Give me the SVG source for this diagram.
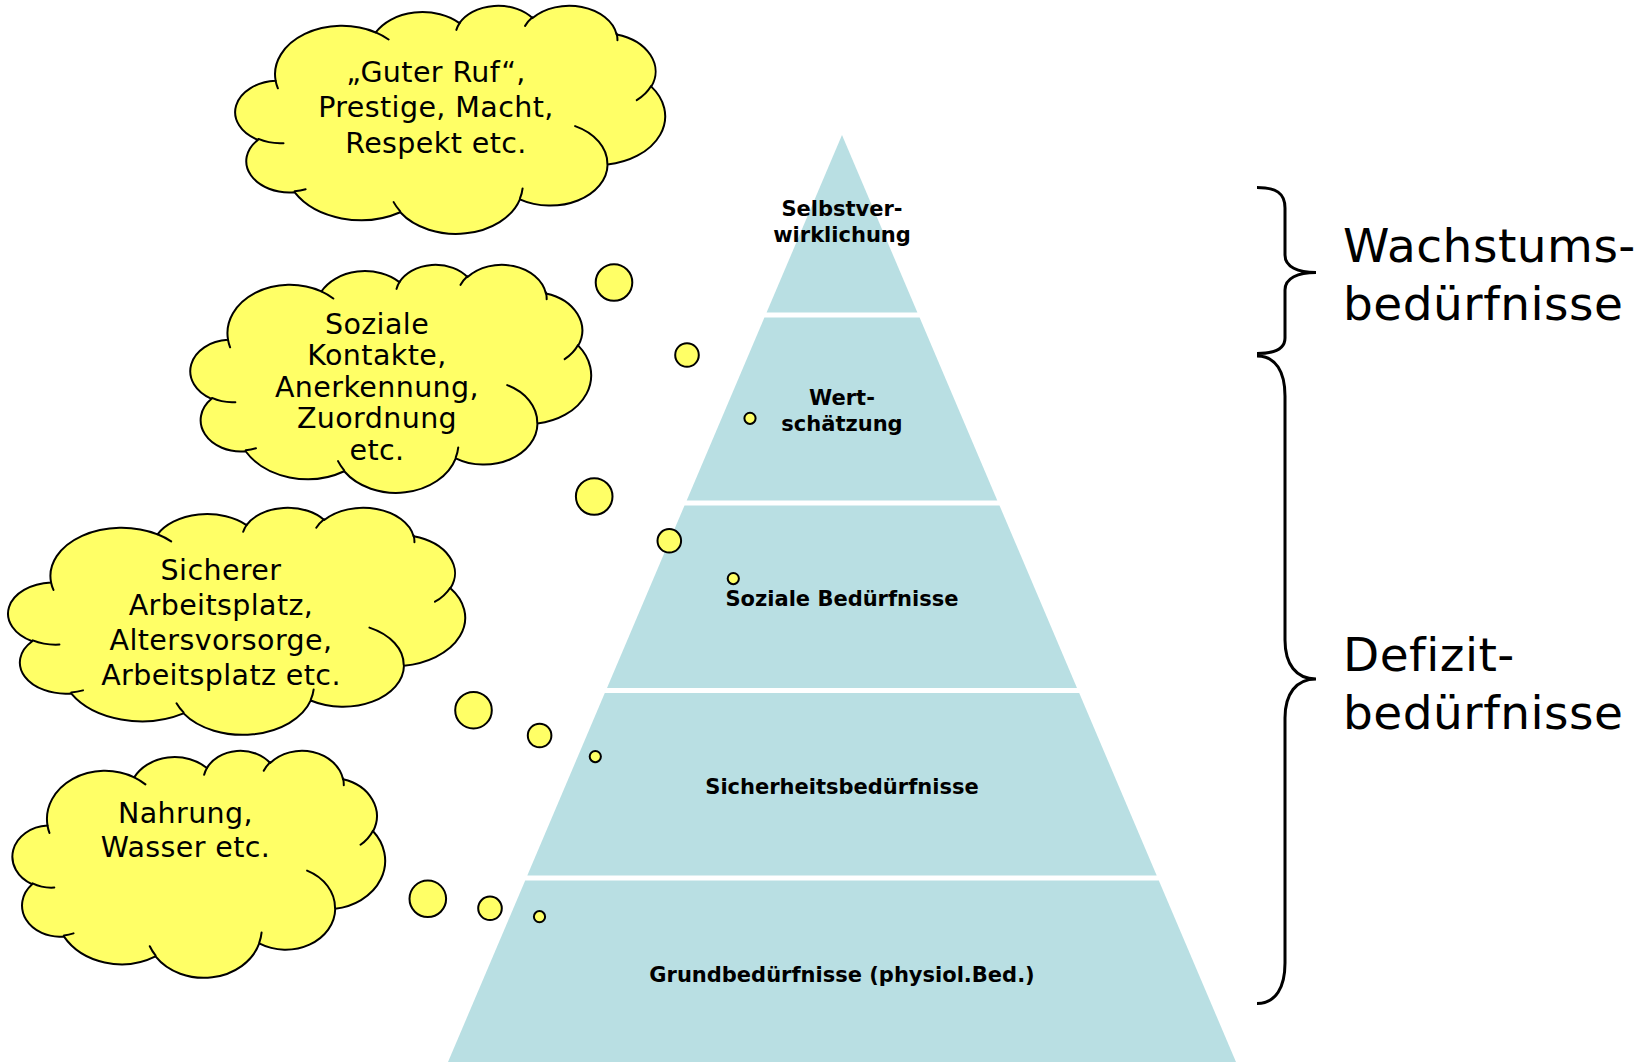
<svg xmlns="http://www.w3.org/2000/svg" width="1652" height="1062" viewBox="0 0 1652 1062">
  <style>
    .layer { fill: #B9DFE3; }
    .lbl { font-family: "DejaVu Sans", Verdana, sans-serif; font-weight: bold; font-size: 21px; fill: #000; text-anchor: middle; }
    .cloud-body { fill: #FFFF66; stroke: #000; stroke-width: 2; stroke-linejoin: round; }
    .cloud-line { fill: none; stroke: #000; stroke-width: 2; stroke-linecap: round; }
    .ctext { font-family: "DejaVu Sans", Verdana, sans-serif; font-size: 28.5px; letter-spacing: 0.4px; fill: #000; text-anchor: middle; }
    .bubble { fill: #FFFF66; stroke: #000; stroke-width: 2; }
    .brace { fill: none; stroke: #000; stroke-width: 3; stroke-linecap: butt; }
    .side { font-family: "DejaVu Sans", Verdana, sans-serif; font-size: 47px; letter-spacing: 0.5px; fill: #000; }
  </style>

  <rect width="1652" height="1062" fill="#FFFFFF"/>

  <!-- pyramid layers -->
  <g id="layer-selbstverwirklichung">
    <polygon class="layer" points="842,135 917.4,312.5 766.6,312.5"/>
    <text class="lbl" x="842" y="216">Selbstver-</text>
    <text class="lbl" x="842" y="242">wirklichung</text>
  </g>
  <g id="layer-wertschaetzung">
    <polygon class="layer" points="764.4,317.5 919.6,317.5 997.3,500.5 686.7,500.5"/>
    <text class="lbl" x="842" y="405">Wert-</text>
    <text class="lbl" x="842" y="431">schätzung</text>
  </g>
  <g id="layer-soziale">
    <polygon class="layer" points="684.5,505.5 999.5,505.5 1077,688 607,688"/>
    <text class="lbl" x="842" y="606">Soziale Bedürfnisse</text>
  </g>
  <g id="layer-sicherheit">
    <polygon class="layer" points="604.8,693 1079.2,693 1156.7,875.5 527.3,875.5"/>
    <text class="lbl" x="842" y="793.5">Sicherheitsbedürfnisse</text>
  </g>
  <g id="layer-grund">
    <polygon class="layer" points="525.2,880.5 1158.8,880.5 1236,1062 448,1062"/>
    <text class="lbl" x="842" y="982">Grundbedürfnisse (physiol.Bed.)</text>
  </g>

  <!-- thought clouds: outline and inner lobe strokes in a 43200-unit box, scaled into place -->
  <g id="cloud-ansehen">
    <g transform="translate(237,5) scale(0.0099074,0.0052778)">
      <path class="cloud-body" vector-effect="non-scaling-stroke" d="M3900,14370 A6753,9190 0 0 1 14005,5202 A5333,7267 0 0 1 22457,3434 A4365,5945 0 0 1 29834,2483 A4857,6595 0 0 1 38318,5580 A5333,7273 0 0 1 41818,15464 A6775,9220 0 0 1 37404,30207 A5785,7867 0 0 1 28555,36817 A6752,9215 0 0 1 16479,39267 A7720,10543 0 0 1 5803,35474 A4360,5918 0 0 1 2113,25551 A4345,5945 0 0 1 3900,14370 Z"/>
      <path class="cloud-line" vector-effect="non-scaling-stroke" d="M4693,26177 A4345,5945 0 0 1 2160,25380 M6928,34899 A4360,5918 0 0 1 5820,35281 M16478,39090 A6752,9215 0 0 1 15811,37351 M28827,34751 A6752,9215 0 0 1 28560,36660 M34129,22954 A5785,7867 0 0 1 37381,30090 M41798,15354 A5333,7273 0 0 1 40350,18030 M38324,5426 A4857,6595 0 0 1 38400,6690 M29078,3952 A4857,6595 0 0 1 29821,2338 M22141,4720 A4365,5945 0 0 1 22500,3330 M14000,5192 A6753,9190 0 0 1 15302,6543 M4127,15789 A6753,9190 0 0 1 3900,14370"/>
    </g>
    <text class="ctext" x="436" y="81.5">„Guter Ruf“,</text>
    <text class="ctext" x="436" y="117">Prestige, Macht,</text>
    <text class="ctext" x="436" y="152.5">Respekt etc.</text>
  </g>
  <g id="cloud-sozial">
    <g transform="translate(192,264) scale(0.0092361,0.0052778)">
      <path class="cloud-body" vector-effect="non-scaling-stroke" d="M3900,14370 A6753,9190 0 0 1 14005,5202 A5333,7267 0 0 1 22457,3434 A4365,5945 0 0 1 29834,2483 A4857,6595 0 0 1 38318,5580 A5333,7273 0 0 1 41818,15464 A6775,9220 0 0 1 37404,30207 A5785,7867 0 0 1 28555,36817 A6752,9215 0 0 1 16479,39267 A7720,10543 0 0 1 5803,35474 A4360,5918 0 0 1 2113,25551 A4345,5945 0 0 1 3900,14370 Z"/>
      <path class="cloud-line" vector-effect="non-scaling-stroke" d="M4693,26177 A4345,5945 0 0 1 2160,25380 M6928,34899 A4360,5918 0 0 1 5820,35281 M16478,39090 A6752,9215 0 0 1 15811,37351 M28827,34751 A6752,9215 0 0 1 28560,36660 M34129,22954 A5785,7867 0 0 1 37381,30090 M41798,15354 A5333,7273 0 0 1 40350,18030 M38324,5426 A4857,6595 0 0 1 38400,6690 M29078,3952 A4857,6595 0 0 1 29821,2338 M22141,4720 A4365,5945 0 0 1 22500,3330 M14000,5192 A6753,9190 0 0 1 15302,6543 M4127,15789 A6753,9190 0 0 1 3900,14370"/>
    </g>
    <text class="ctext" x="377" y="333.5">Soziale</text>
    <text class="ctext" x="377" y="365">Kontakte,</text>
    <text class="ctext" x="377" y="396.5">Anerkennung,</text>
    <text class="ctext" x="377" y="428">Zuordnung</text>
    <text class="ctext" x="377" y="459.5">etc.</text>
  </g>
  <g id="cloud-sicherheit">
    <g transform="translate(10,507) scale(0.0105324,0.0052546)">
      <path class="cloud-body" vector-effect="non-scaling-stroke" d="M3900,14370 A6753,9190 0 0 1 14005,5202 A5333,7267 0 0 1 22457,3434 A4365,5945 0 0 1 29834,2483 A4857,6595 0 0 1 38318,5580 A5333,7273 0 0 1 41818,15464 A6775,9220 0 0 1 37404,30207 A5785,7867 0 0 1 28555,36817 A6752,9215 0 0 1 16479,39267 A7720,10543 0 0 1 5803,35474 A4360,5918 0 0 1 2113,25551 A4345,5945 0 0 1 3900,14370 Z"/>
      <path class="cloud-line" vector-effect="non-scaling-stroke" d="M4693,26177 A4345,5945 0 0 1 2160,25380 M6928,34899 A4360,5918 0 0 1 5820,35281 M16478,39090 A6752,9215 0 0 1 15811,37351 M28827,34751 A6752,9215 0 0 1 28560,36660 M34129,22954 A5785,7867 0 0 1 37381,30090 M41798,15354 A5333,7273 0 0 1 40350,18030 M38324,5426 A4857,6595 0 0 1 38400,6690 M29078,3952 A4857,6595 0 0 1 29821,2338 M22141,4720 A4365,5945 0 0 1 22500,3330 M14000,5192 A6753,9190 0 0 1 15302,6543 M4127,15789 A6753,9190 0 0 1 3900,14370"/>
    </g>
    <text class="ctext" x="221" y="580">Sicherer</text>
    <text class="ctext" x="221" y="615">Arbeitsplatz,</text>
    <text class="ctext" x="221" y="649.5">Altersvorsorge,</text>
    <text class="ctext" x="221" y="684.5">Arbeitsplatz etc.</text>
  </g>
  <g id="cloud-grund">
    <g transform="translate(14,750) scale(0.0085880,0.0052546)">
      <path class="cloud-body" vector-effect="non-scaling-stroke" d="M3900,14370 A6753,9190 0 0 1 14005,5202 A5333,7267 0 0 1 22457,3434 A4365,5945 0 0 1 29834,2483 A4857,6595 0 0 1 38318,5580 A5333,7273 0 0 1 41818,15464 A6775,9220 0 0 1 37404,30207 A5785,7867 0 0 1 28555,36817 A6752,9215 0 0 1 16479,39267 A7720,10543 0 0 1 5803,35474 A4360,5918 0 0 1 2113,25551 A4345,5945 0 0 1 3900,14370 Z"/>
      <path class="cloud-line" vector-effect="non-scaling-stroke" d="M4693,26177 A4345,5945 0 0 1 2160,25380 M6928,34899 A4360,5918 0 0 1 5820,35281 M16478,39090 A6752,9215 0 0 1 15811,37351 M28827,34751 A6752,9215 0 0 1 28560,36660 M34129,22954 A5785,7867 0 0 1 37381,30090 M41798,15354 A5333,7273 0 0 1 40350,18030 M38324,5426 A4857,6595 0 0 1 38400,6690 M29078,3952 A4857,6595 0 0 1 29821,2338 M22141,4720 A4365,5945 0 0 1 22500,3330 M14000,5192 A6753,9190 0 0 1 15302,6543 M4127,15789 A6753,9190 0 0 1 3900,14370"/>
    </g>
    <text class="ctext" x="185.5" y="822.5">Nahrung,</text>
    <text class="ctext" x="185.5" y="857">Wasser etc.</text>
  </g>

  <!-- thought-bubble trails from each cloud to its layer -->
  <g id="connectors">
    <g id="trail-ansehen">
      <circle class="bubble" cx="614" cy="282.5" r="18.3"/>
      <circle class="bubble" cx="687" cy="355" r="11.8"/>
      <circle class="bubble" cx="750" cy="418.3" r="5.6"/>
    </g>
    <g id="trail-sozial">
      <circle class="bubble" cx="594.2" cy="496.5" r="18.3"/>
      <circle class="bubble" cx="669.3" cy="540.8" r="11.8"/>
      <circle class="bubble" cx="733.3" cy="578.6" r="5.6"/>
    </g>
    <g id="trail-sicherheit">
      <circle class="bubble" cx="473.5" cy="710.2" r="18.3"/>
      <circle class="bubble" cx="539.6" cy="735.5" r="11.8"/>
      <circle class="bubble" cx="595.3" cy="756.6" r="5.6"/>
    </g>
    <g id="trail-grund">
      <circle class="bubble" cx="427.8" cy="898.8" r="18.3"/>
      <circle class="bubble" cx="490" cy="908.3" r="11.8"/>
      <circle class="bubble" cx="539.5" cy="916.7" r="5.6"/>
    </g>
  </g>

  <!-- grouping braces and their captions -->
  <g id="group-wachstum">
    <path class="brace" d="M1257,187.5 C1276,187.5 1285,193 1285,208 L1285,255 C1285,267 1298,272.5 1316,272.5 C1298,272.5 1285,278 1285,290 L1285,338 C1285,348 1276,353.5 1257,353.5"/>
    <text class="side" x="1343" y="262">Wachstums-</text>
    <text class="side" x="1343" y="320">bedürfnisse</text>
  </g>
  <g id="group-defizit">
    <path class="brace" d="M1257,356 C1276,356 1285,372 1285,396 L1285,640 C1285,664 1296,679 1316,679 C1296,679 1285,694 1285,718 L1285,963 C1285,987 1276,1003.5 1257,1003.5"/>
    <text class="side" x="1343" y="671">Defizit-</text>
    <text class="side" x="1343" y="729">bedürfnisse</text>
  </g>
</svg>
